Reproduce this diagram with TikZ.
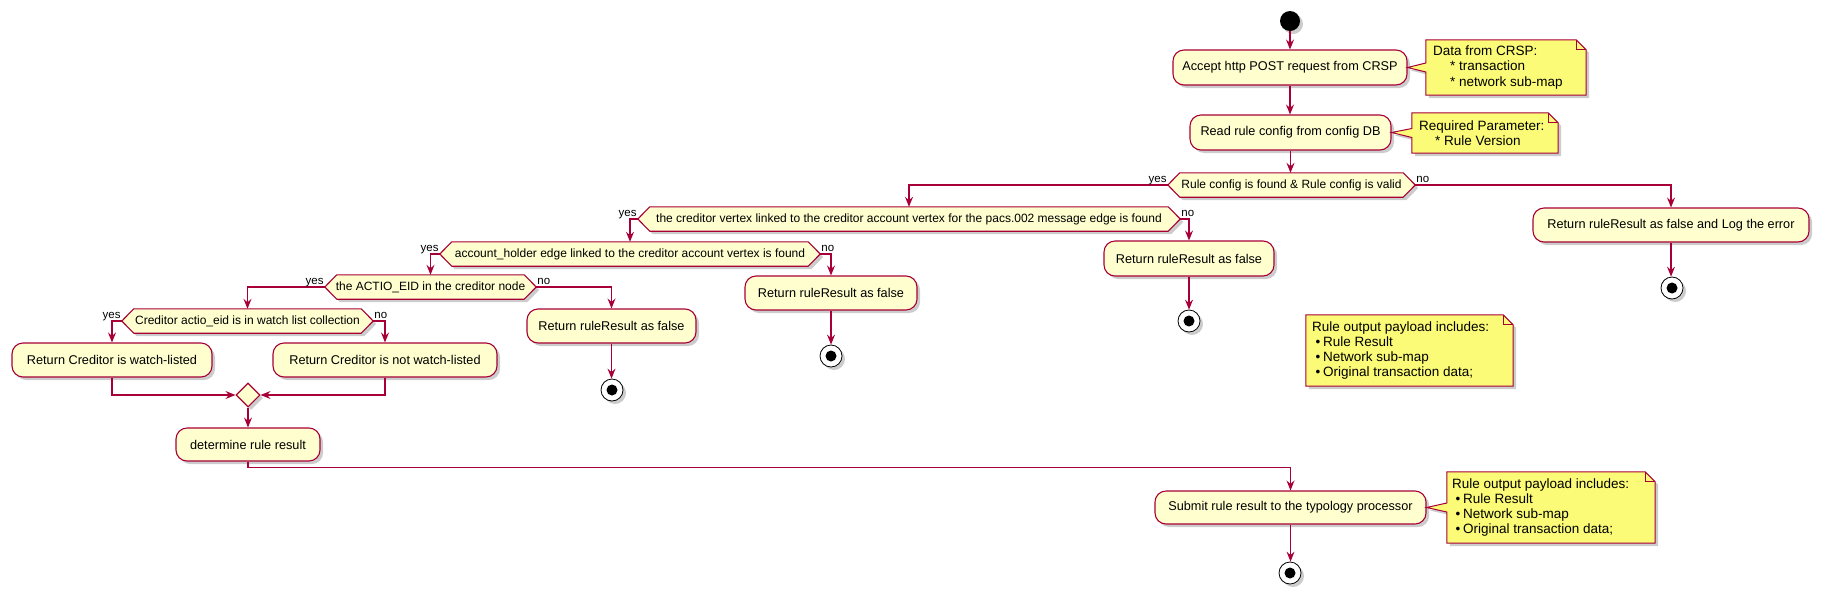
\documentclass[tikz,border=0pt]{standalone}
\usepackage{fontspec}
\setmainfont{Liberation Sans}
\usetikzlibrary{arrows.meta,shadows,calc,shapes.geometric}
\definecolor{pumlred}{RGB}{168,0,54}
\definecolor{pumlbox}{RGB}{254,254,206}
\definecolor{pumlnote}{RGB}{251,251,119}
\pgfdeclarelayer{bg}
\pgfsetlayers{bg,main}
\tikzset{
 shad/.style={drop shadow={shadow xshift=3pt,shadow yshift=-3pt,fill=black,opacity=0.2}},
 actbox/.style={draw=pumlred, fill=pumlbox, line width=1.1pt, rounded corners=11pt, inner sep=0pt, font=\fontsize{12.7}{15}\selectfont, shad},
 condtext/.style={inner sep=0pt, font=\fontsize{12}{14}\selectfont},
 hexline/.style={draw=pumlred, fill=pumlbox, line width=1.1pt, shad},
 notebox/.style={draw=pumlred, fill=pumlnote, line width=1pt, shad},
 notetext/.style={inner sep=0pt, align=left, font=\fontsize{13.5}{15.3}\selectfont, anchor=west},
 flow/.style={draw=pumlred, line width=1.1pt, -{Stealth[length=10pt,width=8pt,inset=3.5pt]}},
 lbl/.style={inner sep=0pt, font=\fontsize{11.5}{13}\selectfont},
 startc/.style={circle, fill=black, minimum size=20pt, inner sep=0pt, shad},
 endc/.style={circle, draw=black, fill=white, line width=0.8pt, minimum size=22pt, inner sep=0pt, shad,
   path picture={\fill[black] (path picture bounding box.center) circle (5.5pt);}},
 mergeshape/.style={diamond, aspect=1, draw=pumlred, fill=pumlbox, line width=1.1pt, minimum width=24pt, minimum height=24pt, inner sep=0pt, shad},
 helper/.style={inner sep=0pt, draw=none},
}
\newcommand\hexa[1]{%
 \begin{pgfonlayer}{bg}
 \path[hexline] (#1.west) -- ($(#1.north west)+(12,0)$) -- ($(#1.north east)+(-12,0)$) -- (#1.east) -- ($(#1.south east)+(-12,0)$) -- ($(#1.south west)+(12,0)$) -- cycle;
 \end{pgfonlayer}}
\newcommand\notewithptr[2]{%
 \path[notebox] (#1.north west) -- ($(#1.north east)+(-10,0)$) -- ($(#1.north east)+(0,10)$) -- (#1.south east) -- (#1.south west) -- ($(#1.west)+(0,4.5)$) -- (#2) -- ($(#1.west)+(0,-4.5)$) -- cycle;
 \draw[pumlred, line width=1pt] ($(#1.north east)+(-10,0)$) -- ($(#1.north east)+(-10,10)$) -- ($(#1.north east)+(0,10)$);}
\newcommand\noteplain[1]{%
 \path[notebox] (#1.north west) -- ($(#1.north east)+(-10,0)$) -- ($(#1.north east)+(0,10)$) -- (#1.south east) -- (#1.south west) -- cycle;
 \draw[pumlred, line width=1pt] ($(#1.north east)+(-10,0)$) -- ($(#1.north east)+(-10,10)$) -- ($(#1.north east)+(0,10)$);}
\newcommand\bul{\hspace*{3.7pt}•\hspace{2.6pt}}
\begin{document}
\begin{tikzpicture}[x=1pt,y=-1pt]
\useasboundingbox (0,0) rectangle (1825,600);
\begin{pgfonlayer}{bg}
\fill[white] (0,0) rectangle (1825,600);
\end{pgfonlayer}

% main column
\node[startc] (start) at (1290,21) {};
\node[actbox, minimum width=234pt, minimum height=35pt] (accept) at (1290,67.5) {Accept http POST request from CRSP};
\node[actbox, minimum width=201pt, minimum height=35pt] (read) at (1290.5,132.5) {Read rule config from config DB};
\node[condtext, minimum width=247pt, minimum height=24pt] (d1) at (1291.5,185) {Rule config is found \& Rule config is valid};
\hexa{d1}
\node[actbox, minimum width=276pt, minimum height=34pt] (logbox) at (1671,225) {Return ruleResult as false and Log the error};
\node[endc] (endlog) at (1672,288) {};

\node[condtext, minimum width=542pt, minimum height=24pt] (d2) at (909,219) {the creditor vertex linked to the creditor account vertex for the pacs.002 message edge is found};
\hexa{d2}
\node[actbox, minimum width=170pt, minimum height=35pt] (boxc) at (1189,258.5) {Return ruleResult as false};
\node[endc] (endc) at (1189,321) {};

\node[condtext, minimum width=380pt, minimum height=24pt] (d3) at (630,254) {account\_holder edge linked to the creditor account vertex is found};
\hexa{d3}
\node[actbox, minimum width=172pt, minimum height=34pt] (boxd) at (831,293) {Return ruleResult as false};
\node[endc] (endd) at (831,356) {};

\node[condtext, minimum width=211pt, minimum height=24pt] (d4) at (430.5,287) {the ACTIO\_EID in the creditor node};
\hexa{d4}
\node[actbox, minimum width=169pt, minimum height=34pt] (boxe) at (611.5,326) {Return ruleResult as false};
\node[endc] (ende) at (612,390) {};

\node[condtext, minimum width=251pt, minimum height=24pt] (d5) at (247.5,321) {Creditor actio\_eid is in watch list collection};
\hexa{d5}
\node[actbox, minimum width=200pt, minimum height=34pt] (boxa) at (112,360) {Return Creditor is watch-listed};
\node[actbox, minimum width=224pt, minimum height=34pt] (boxb) at (385,360) {Return Creditor is not watch-listed};
\node[mergeshape] (merge) at (248,395) {};
\node[actbox, minimum width=144pt, minimum height=33pt] (det) at (248,444.5) {determine rule result};
\node[actbox, minimum width=271pt, minimum height=33pt] (submit) at (1290.5,507.5) {Submit rule result to the typology processor};
\node[endc] (ends) at (1290,573) {};

% notes
\node[helper, minimum width=160pt, minimum height=55pt] (n1) at (1506,67.5) {};
\notewithptr{n1}{accept.east}
\node[notetext] (n1t) at ($(n1.west)+(7,0)$) {Data from CRSP:\\\hspace*{17pt}* transaction\\\hspace*{17pt}* network sub-map};

\node[helper, minimum width=146pt, minimum height=40pt] (n2) at (1485,133) {};
\notewithptr{n2}{read.east}
\node[notetext] (n2t) at ($(n2.west)+(7,0)$) {Required Parameter:\\\hspace*{16pt}* Rule Version};

\node[helper, minimum width=207pt, minimum height=71pt] (n3) at (1409.5,350.5) {};
\noteplain{n3}
\node[notetext] (n3t) at ($(n3.west)+(6,0)$) {Rule output payload includes:\\\bul Rule Result\\\bul Network sub-map\\\bul Original transaction data;};

\node[helper, minimum width=208pt, minimum height=71pt] (n4) at (1551,507.5) {};
\notewithptr{n4}{submit.east}
\node[notetext] (n4t) at ($(n4.west)+(5,0)$) {Rule output payload includes:\\\bul Rule Result\\\bul Network sub-map\\\bul Original transaction data;};

% connectors
\draw[flow] (start.south) -- (start.south |- accept.north);
\draw[flow] (accept.south) -- (accept.south |- read.north);
\draw[flow] (read.south) -- (read.south |- d1.north);
\draw[flow] (d1.west) -| (d2.north);
\draw[flow] (d1.east) -| (logbox.north);
\draw[flow] (logbox.south) -- (logbox.south |- endlog.north);
\draw[flow] (d2.west) -| (d3.north);
\draw[flow] (d2.east) -| (boxc.north);
\draw[flow] (boxc.south) -- (endc.north);
\draw[flow] (d3.west) -| (d4.north);
\draw[flow] (d3.east) -| (boxd.north);
\draw[flow] (boxd.south) -- (endd.north);
\draw[flow] (d4.west) -| (d5.north);
\draw[flow] (d4.east) -| (boxe.north);
\draw[flow] (boxe.south) -- (boxe.south |- ende.north);
\draw[flow] (d5.west) -| (boxa.north);
\draw[flow] (d5.east) -| (boxb.north);
\draw[flow] (boxa.south) |- (merge.west);
\draw[flow] (boxb.south) |- (merge.east);
\draw[flow] (merge.south) -- (det.north);
\coordinate (detturn) at ($(det.south)+(0,6)$);
\draw[flow] (det.south) -- (detturn) -| (submit.north);
\draw[flow] (submit.south) -- (submit.south |- ends.north);

% yes / no labels
\foreach \d in {d1,d2,d3,d4,d5}{
  \node[lbl, anchor=base east] at ($(\d.west)+(-1,-2.5)$) {yes};
  \node[lbl, anchor=base west] at ($(\d.east)+(1,-2.5)$) {no};
}
\end{tikzpicture}
\end{document}
